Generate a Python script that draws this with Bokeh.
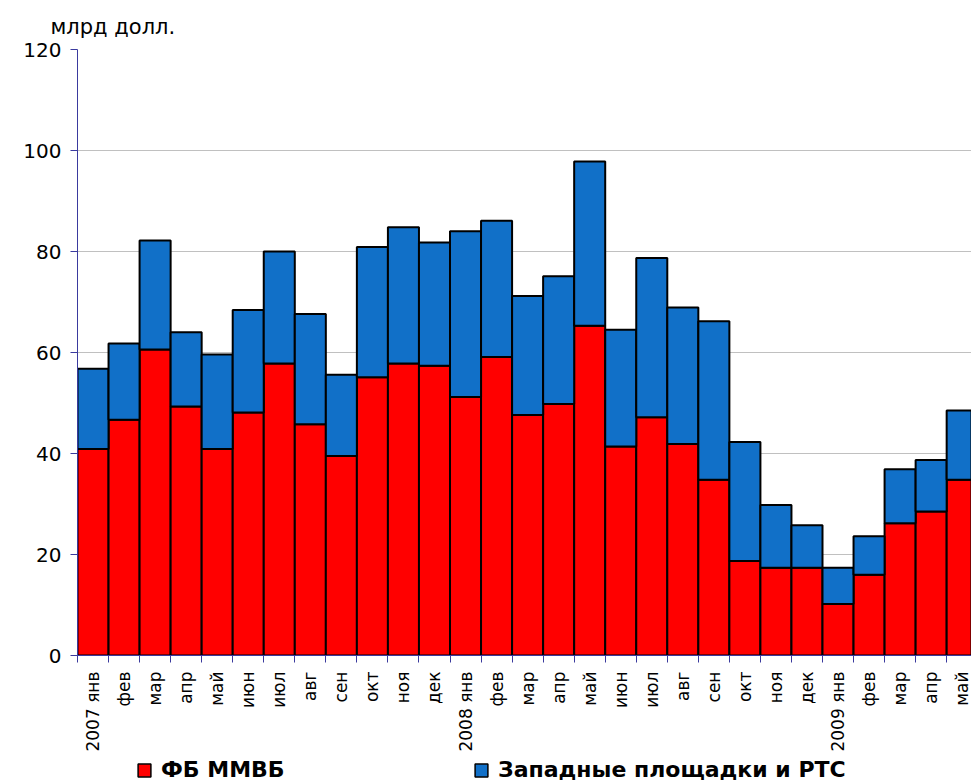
import math
from bokeh.plotting import figure
from bokeh.layouts import column
from bokeh.models import (ColumnDataSource, Range1d, FixedTicker, Legend, LegendItem)
from bokeh.embed import file_html
from bokeh.resources import INLINE

months = ["2007 янв", "фев", "мар", "апр", "май", "июн", "июл", "авг", "сен", "окт", "ноя", "дек",
          "2008 янв", "фев", "мар", "апр", "май", "июн", "июл", "авг", "сен", "окт", "ноя", "дек",
          "2009 янв", "фев", "мар", "апр", "май"]
micex = [40.9, 46.7, 60.6, 49.3, 40.9, 48.1, 57.8, 45.8, 39.5, 55.1, 57.8, 57.4,
         51.2, 59.1, 47.6, 49.8, 65.3, 41.4, 47.2, 41.9, 34.8, 18.7, 17.4, 17.4,
         10.2, 16.0, 26.2, 28.5, 34.8]
west_rts = [15.9, 15.1, 21.6, 14.7, 18.7, 20.3, 22.2, 21.8, 16.1, 25.8, 27.0, 24.4,
            32.8, 27.0, 23.6, 25.3, 32.5, 23.1, 31.5, 27.0, 31.4, 23.6, 12.4, 8.4,
            7.2, 7.6, 10.7, 10.2, 13.7]
y_ticks = [0, 20, 40, 60, 80, 100, 120]
series_names = ["ФБ ММВБ", "Западные площадки и РТС"]
series_colors = ["#ff0000", "#1170c8"]
unit_label = "млрд долл."

idx = list(range(len(months)))
src = ColumnDataSource(dict(x=idx, micex=micex, west=west_rts))

FONT = "DejaVu Sans"
AXIS_BLUE = "#3a3a9e"

p = figure(width=971, height=756, output_backend="svg", toolbar_location=None,
           x_range=Range1d(-0.5, 28.3), y_range=Range1d(0, 120),
           min_border_left=77, min_border_right=0, min_border_top=49, min_border_bottom=101)
p.outline_line_color = None
p.background_fill_color = "white"
p.border_fill_color = "white"

p.title.text = unit_label
p.title.align = "left"
p.title.offset = -27
p.title.text_font = FONT
p.title.text_font_size = "21px"
p.title.text_font_style = "normal"
p.title.text_color = "black"
p.title.standoff = 21

rs = p.vbar_stack(["micex", "west"], x="x", width=1.0, source=src,
                  fill_color=series_colors, line_color="black", line_width=2)

# x axis: labels at category centres, ticks at boundaries
p.xaxis.ticker = FixedTicker(ticks=idx, minor_ticks=[i - 0.5 for i in idx] + [len(idx) - 0.5])
p.xaxis.major_label_overrides = {i: m for i, m in enumerate(months)}
p.xaxis.major_label_orientation = math.pi / 2
p.xaxis.major_tick_line_color = None
p.xaxis.major_tick_out = 0
p.xaxis.major_tick_in = 0
p.xaxis.minor_tick_line_color = AXIS_BLUE
p.xaxis.minor_tick_out = 7
p.xaxis.minor_tick_in = 0
p.xaxis.axis_line_color = AXIS_BLUE
p.xaxis.major_label_text_font = FONT
p.xaxis.major_label_text_font_size = "17px"
p.xaxis.major_label_text_color = "black"
p.xaxis.major_label_standoff = 9

p.yaxis.ticker = FixedTicker(ticks=y_ticks)
p.yaxis.axis_line_color = AXIS_BLUE
p.yaxis.major_tick_line_color = AXIS_BLUE
p.yaxis.major_tick_out = 7
p.yaxis.major_tick_in = 0
p.yaxis.minor_tick_line_color = None
p.yaxis.major_label_text_font = FONT
p.yaxis.major_label_text_font_size = "20px"
p.yaxis.major_label_text_color = "black"
p.yaxis.major_label_standoff = 9

p.xgrid.grid_line_color = None
p.ygrid.grid_line_color = "#c0c0c0"
p.ygrid.grid_line_width = 1

# legend strip below the chart (its frame is aligned with the chart's frame)
lf = figure(width=971, height=26, output_backend="svg", toolbar_location=None,
            x_range=Range1d(0, 1), y_range=Range1d(0, 1),
            x_axis_type=None, y_axis_type=None, min_border=0)
lf.outline_line_color = None
lf.background_fill_color = "white"
lf.border_fill_color = "white"
lf.xgrid.grid_line_color = None
lf.ygrid.grid_line_color = None
key_src = ColumnDataSource(dict(x=[float("nan")], top=[float("nan")]))
keys = [lf.vbar(x="x", top="top", width=1, source=key_src, fill_color=c,
                line_color="black", line_width=1.5) for c in series_colors]

lg = Legend(items=[LegendItem(label=n, renderers=[r]) for n, r in zip(series_names, keys)],
            location=(59, 0), orientation="horizontal", padding=0, margin=0, spacing=12,
            glyph_width=16, glyph_height=16, label_standoff=9, label_width=300,
            label_text_font=FONT, label_text_font_size="22px", label_text_font_style="bold",
            label_text_color="black", background_fill_alpha=0, border_line_color=None)
lf.add_layout(lg, "center")

open("out.html", "w").write(file_html(column(p, lf, spacing=0), INLINE))
